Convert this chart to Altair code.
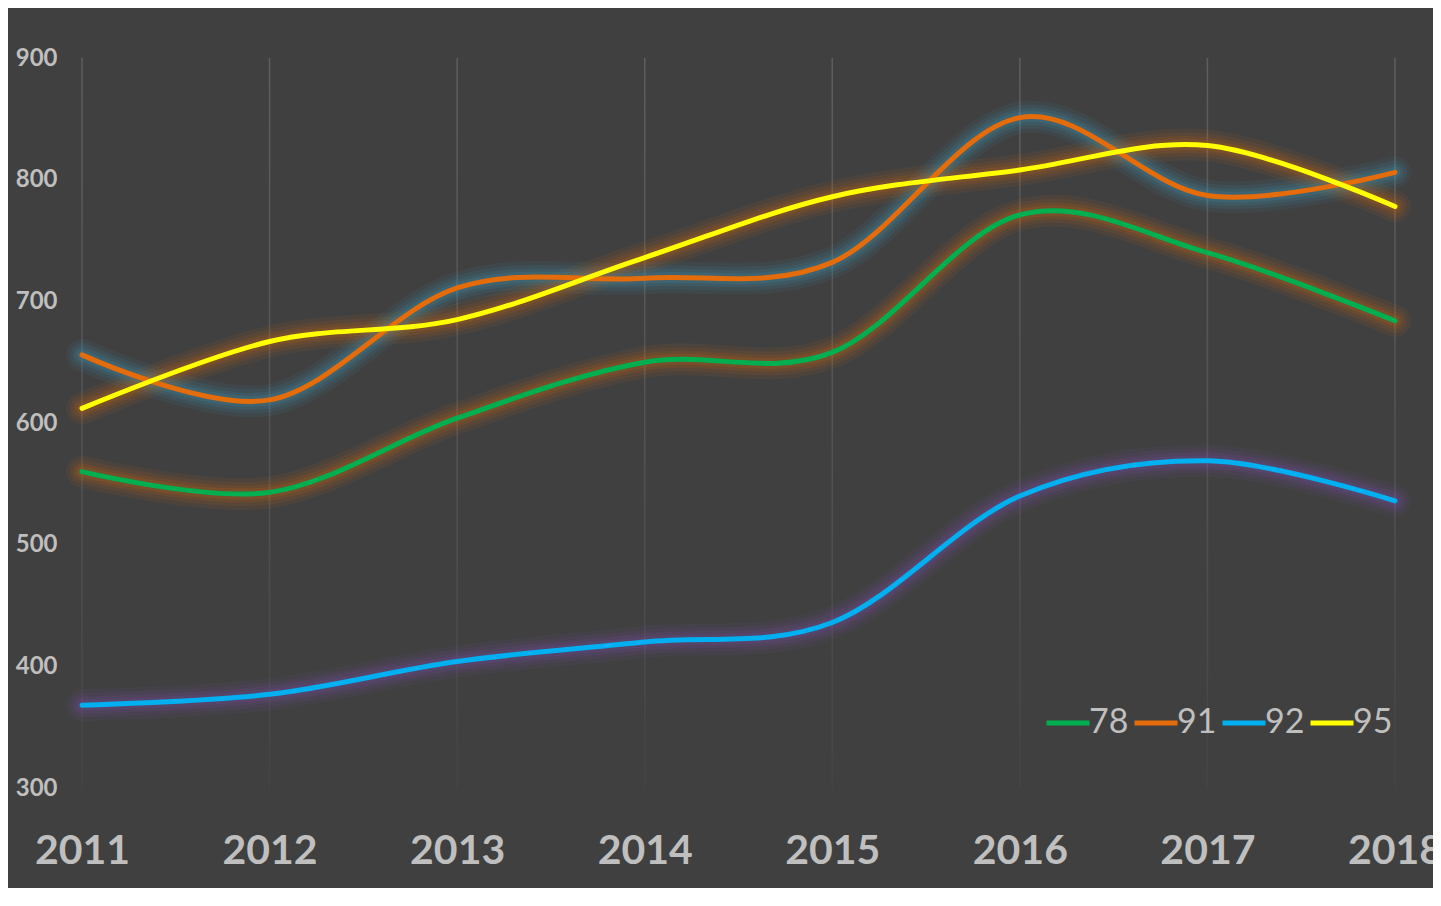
import altair as alt
import pandas as pd

years = [2011, 2012, 2013, 2014, 2015, 2016, 2017, 2018]
series_names = ["78", "91", "92", "95"]
v78 = [560, 543, 604, 650, 658, 771, 740, 684]
v91 = [656, 619, 711, 719, 732, 851, 787, 806]
v92 = [368, 377, 404, 420, 436, 540, 569, 536]
v95 = [612, 667, 685, 736, 786, 808, 828, 778]
line_colors = ["#00B050", "#E46C0A", "#00B0F0", "#FFFF00"]
glow_colors = ["#E46C0A", "#3FA9D0", "#8A4FC0", "#E46C0A"]
y_ticks = [300, 400, 500, 600, 700, 800, 900]

rows = []
for name, vals, gc in zip(series_names, [v78, v91, v92, v95], glow_colors):
    for yr, v in zip(years, vals):
        rows.append({"year": yr, "series": name, "value": v, "glow": gc})
df = pd.DataFrame(rows)
grid_df = pd.DataFrame({"year": years})

FONT = "Lato"
LABEL = "#BFBFBF"

xscale = alt.Scale(domain=[2011, 2018], nice=False, zero=False, padding=0)
yscale = alt.Scale(domain=[300, 900], nice=False, zero=False)

x_enc = alt.X("year:Q", scale=xscale,
              axis=alt.Axis(values=years, format="d", title=None, grid=False,
                            domain=False, ticks=False, labelFont=FONT,
                            labelFontSize=41, labelFontWeight="bold",
                            labelColor=LABEL, labelPadding=43,
                            labelFlush=False, labelOverlap=False))
y_enc = alt.Y("value:Q", scale=yscale,
              axis=alt.Axis(values=y_ticks, title=None, domain=False, ticks=False,
                            labelFont=FONT, labelFontSize=24, labelFontWeight="bold",
                            labelColor=LABEL, labelPadding=25,
                            gridColor={"condition": {"test": "datum.value <= 500", "value": "#4e4e4e"},
                                       "value": "#5b5b5b"},
                            gridOpacity={"condition": {"test": "datum.value <= 300", "value": 0},
                                         "value": 1},
                            gridWidth=1.5))

vgrid = alt.Chart(grid_df).mark_bar(
    size=1.5,
    color={"gradient": "linear", "x1": 0, "y1": 0, "x2": 0, "y2": 1,
           "stops": [{"offset": 0, "color": "#5e5e5e"},
                     {"offset": 0.6, "color": "#515151"},
                     {"offset": 1, "color": "#444444"}]}
).encode(
    x=alt.X("year:Q", scale=xscale),
    y=alt.datum(900, scale=yscale),
    y2=alt.datum(300),
)

glows = []
for w, op in [(32, 0.07), (24, 0.09), (17, 0.11), (11, 0.13)]:
    glows.append(
        alt.Chart(df).mark_line(interpolate="cardinal", tension=0, strokeWidth=w,
                                opacity=op, strokeCap="round").encode(
            x=x_enc, y=y_enc,
            stroke=alt.Stroke("glow:N", scale=None),
            detail="series:N",
        )
    )

lines = alt.Chart(df).mark_line(interpolate="cardinal", tension=0, strokeWidth=5,
                                strokeCap="round").encode(
    x=x_enc, y=y_enc,
    color=alt.Color("series:N",
                    scale=alt.Scale(domain=series_names, range=line_colors),
                    legend=alt.Legend(title=None, orient="none", direction="horizontal",
                                      legendX=962, legendY=641,
                                      symbolType="stroke", symbolSize=1849,
                                      symbolStrokeWidth=5, labelFont=FONT,
                                      labelFontSize=34, labelColor=LABEL,
                                      labelOffset={"expr": "-3"},
                                      columnPadding={"expr": "-5"},
                                      symbolOffset=0)),
)

chart = alt.layer(vgrid, *glows, lines).properties(
    width=1313, height=730,
    background="#404040",
    padding={"left": 74, "top": 50, "right": 38, "bottom": 100},
    autosize=alt.AutoSizeParams(type="none"),
).configure_view(stroke=None)

chart.save("out.html", embed_options={"renderer": "svg", "actions": False})
